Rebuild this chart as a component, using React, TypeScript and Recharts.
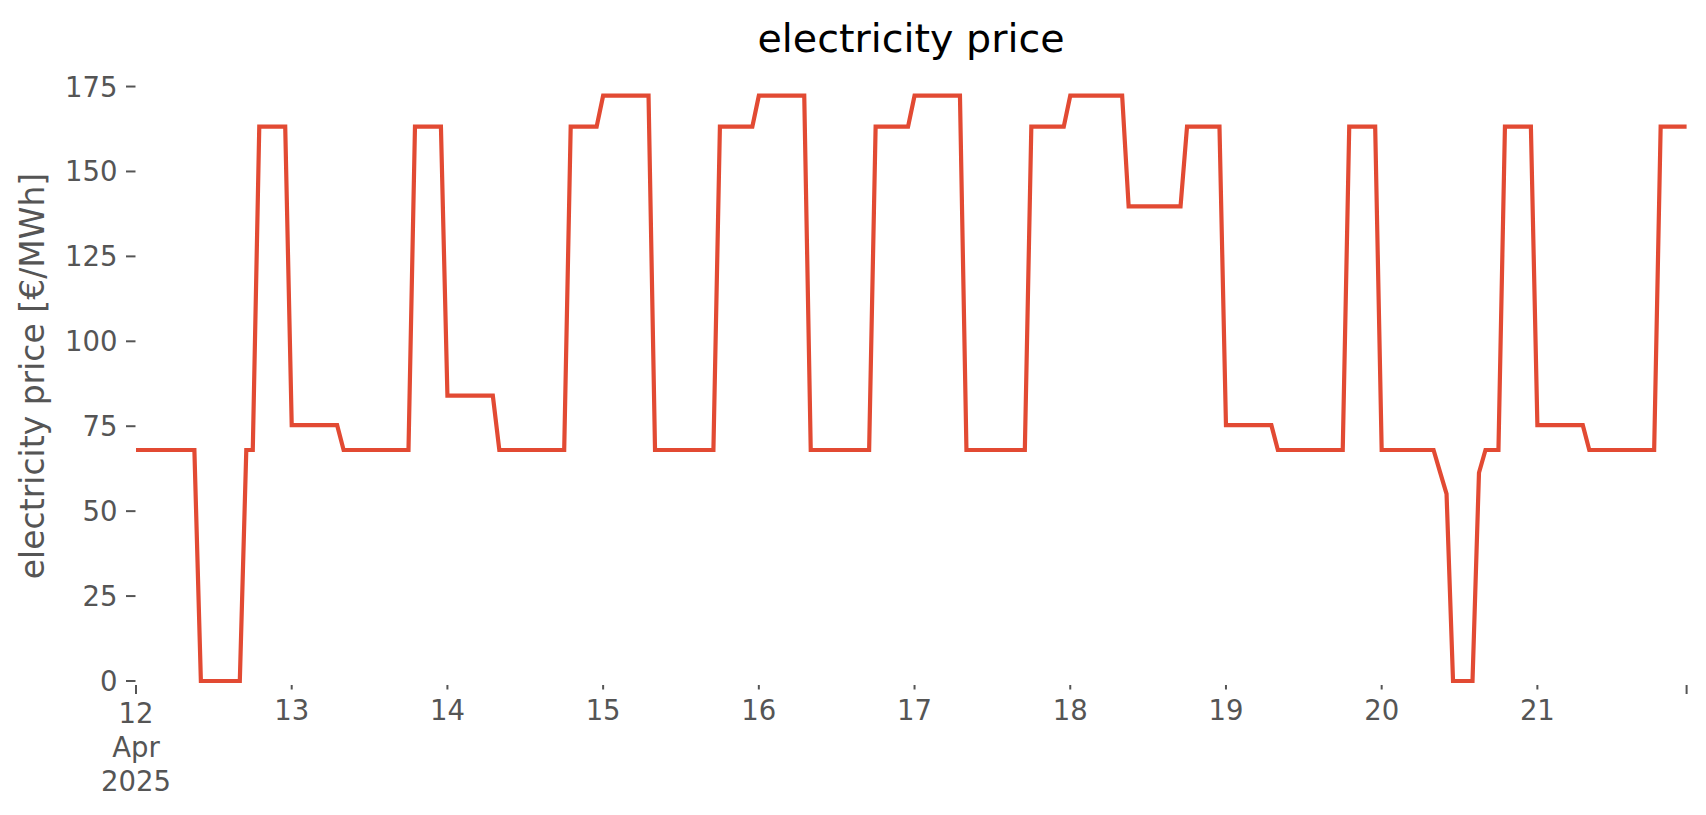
import { LineChart, Line, XAxis, YAxis } from 'recharts';

// hourly electricity price [€/MWh], 12 Apr 2025 00:00 .. 21 Apr 2025 23:00
const apr12 = [68, 68, 68, 68, 68, 68, 68, 68, 68, 68, 0, 0, 0, 0, 0, 0, 0, 68, 68, 163.2, 163.2, 163.2, 163.2, 163.2];
const apr13 = [75.3, 75.3, 75.3, 75.3, 75.3, 75.3, 75.3, 75.3, 68, 68, 68, 68, 68, 68, 68, 68, 68, 68, 68, 163.2, 163.2, 163.2, 163.2, 163.2];
const apr14 = [84, 84, 84, 84, 84, 84, 84, 84, 68, 68, 68, 68, 68, 68, 68, 68, 68, 68, 68, 163.2, 163.2, 163.2, 163.2, 163.2];
const apr15 = [172.3, 172.3, 172.3, 172.3, 172.3, 172.3, 172.3, 172.3, 68, 68, 68, 68, 68, 68, 68, 68, 68, 68, 163.2, 163.2, 163.2, 163.2, 163.2, 163.2];
const apr16 = [172.3, 172.3, 172.3, 172.3, 172.3, 172.3, 172.3, 172.3, 68, 68, 68, 68, 68, 68, 68, 68, 68, 68, 163.2, 163.2, 163.2, 163.2, 163.2, 163.2];
const apr17 = [172.3, 172.3, 172.3, 172.3, 172.3, 172.3, 172.3, 172.3, 68, 68, 68, 68, 68, 68, 68, 68, 68, 68, 163.2, 163.2, 163.2, 163.2, 163.2, 163.2];
const apr18 = [172.3, 172.3, 172.3, 172.3, 172.3, 172.3, 172.3, 172.3, 172.3, 139.7, 139.7, 139.7, 139.7, 139.7, 139.7, 139.7, 139.7, 139.7, 163.2, 163.2, 163.2, 163.2, 163.2, 163.2];
const apr19 = [75.3, 75.3, 75.3, 75.3, 75.3, 75.3, 75.3, 75.3, 68, 68, 68, 68, 68, 68, 68, 68, 68, 68, 68, 163.2, 163.2, 163.2, 163.2, 163.2];
const apr20 = [68, 68, 68, 68, 68, 68, 68, 68, 68, 61.5, 55.1, 0, 0, 0, 0, 61.3, 68, 68, 68, 163.2, 163.2, 163.2, 163.2, 163.2];
const apr21 = [75.3, 75.3, 75.3, 75.3, 75.3, 75.3, 75.3, 75.3, 68, 68, 68, 68, 68, 68, 68, 68, 68, 68, 68, 163.2, 163.2, 163.2, 163.2, 163.2];

const dayLabels = ['12', '13', '14', '15', '16', '17', '18', '19', '20', '21'];
const xTicks = [0, 24, 48, 72, 96, 120, 144, 168, 192, 216, 239];
const yTicks = [0, 25, 50, 75, 100, 125, 150, 175];

const prices = [...apr12, ...apr13, ...apr14, ...apr15, ...apr16, ...apr17, ...apr18, ...apr19, ...apr20, ...apr21];
const data = prices.map((price, h) => ({ h, price }));

const FONT = 'DejaVu Sans';
const GREY = '#555555';

function DayTick(props: any) {
  const { x, y, payload } = props;
  const i = xTicks.indexOf(payload.value);
  const major = i === 0 || i === xTicks.length - 1;
  const lines = i === 0 ? ['12', 'Apr', '2025'] : i < dayLabels.length ? [dayLabels[i]] : [];
  return (
    <g>
      <line x1={x} x2={x} y1={y} y2={y + (major ? 9 : 4.5)} stroke={GREY} strokeWidth={2} />
      {lines.map((t, k) => (
        <text key={k} x={x} y={y + (major ? 38 : 35) + k * 34} textAnchor="middle" fill={GREY} fontSize={27.5} fontFamily={FONT}>
          {t}
        </text>
      ))}
    </g>
  );
}

function PriceTick(props: any) {
  const { x, y, payload } = props;
  return (
    <g>
      <line x1={x - 10} x2={x - 0.5} y1={y} y2={y} stroke={GREY} strokeWidth={2} />
      <text x={x - 18.5} y={y + 10} textAnchor="end" fill={GREY} fontSize={27.5} fontFamily={FONT}>
        {payload.value}
      </text>
    </g>
  );
}

export default function App() {
  return (
    <div style={styles.page}>
      <LineChart width={1706} height={815} data={data} margin={{ top: 66.5, right: 19.4, bottom: 0, left: 0 }}>
        <XAxis
          dataKey="h"
          type="number"
          domain={[0, 239]}
          ticks={xTicks}
          interval={0}
          height={130}
          tickSize={0}
          tickMargin={0}
          tickLine={false}
          axisLine={false}
          tick={DayTick}
        />
        <YAxis
          type="number"
          domain={[-1.18, 180.9]}
          ticks={yTicks}
          interval={0}
          width={136}
          tickSize={0}
          tickMargin={0}
          tickLine={false}
          axisLine={false}
          tick={PriceTick}
          allowDataOverflow
        />
        <Line
          type="linear"
          dataKey="price"
          stroke="#E24A33"
          strokeWidth={4.2}
          strokeLinejoin="miter"
          dot={false}
          activeDot={false}
          isAnimationActive={false}
        />
      </LineChart>
      <svg width={1706} height={815} style={styles.overlay}>
        <text x={911} y={52} textAnchor="middle" fontSize={39.6} fontFamily={FONT} fill="#000">
          electricity price
        </text>
        <text
          x={44}
          y={376}
          transform="rotate(-90, 44, 376)"
          textAnchor="middle"
          fontSize={33}
          fontFamily={FONT}
          fill={GREY}
        >
          electricity price [€/MWh]
        </text>
      </svg>
    </div>
  );
}

const styles = {
  page: {
    position: 'absolute' as const,
    left: 0,
    top: 0,
    width: '1706px',
    height: '815px',
    background: '#fff',
  },
  overlay: {
    position: 'absolute' as const,
    left: 0,
    top: 0,
    pointerEvents: 'none' as const,
  },
};
